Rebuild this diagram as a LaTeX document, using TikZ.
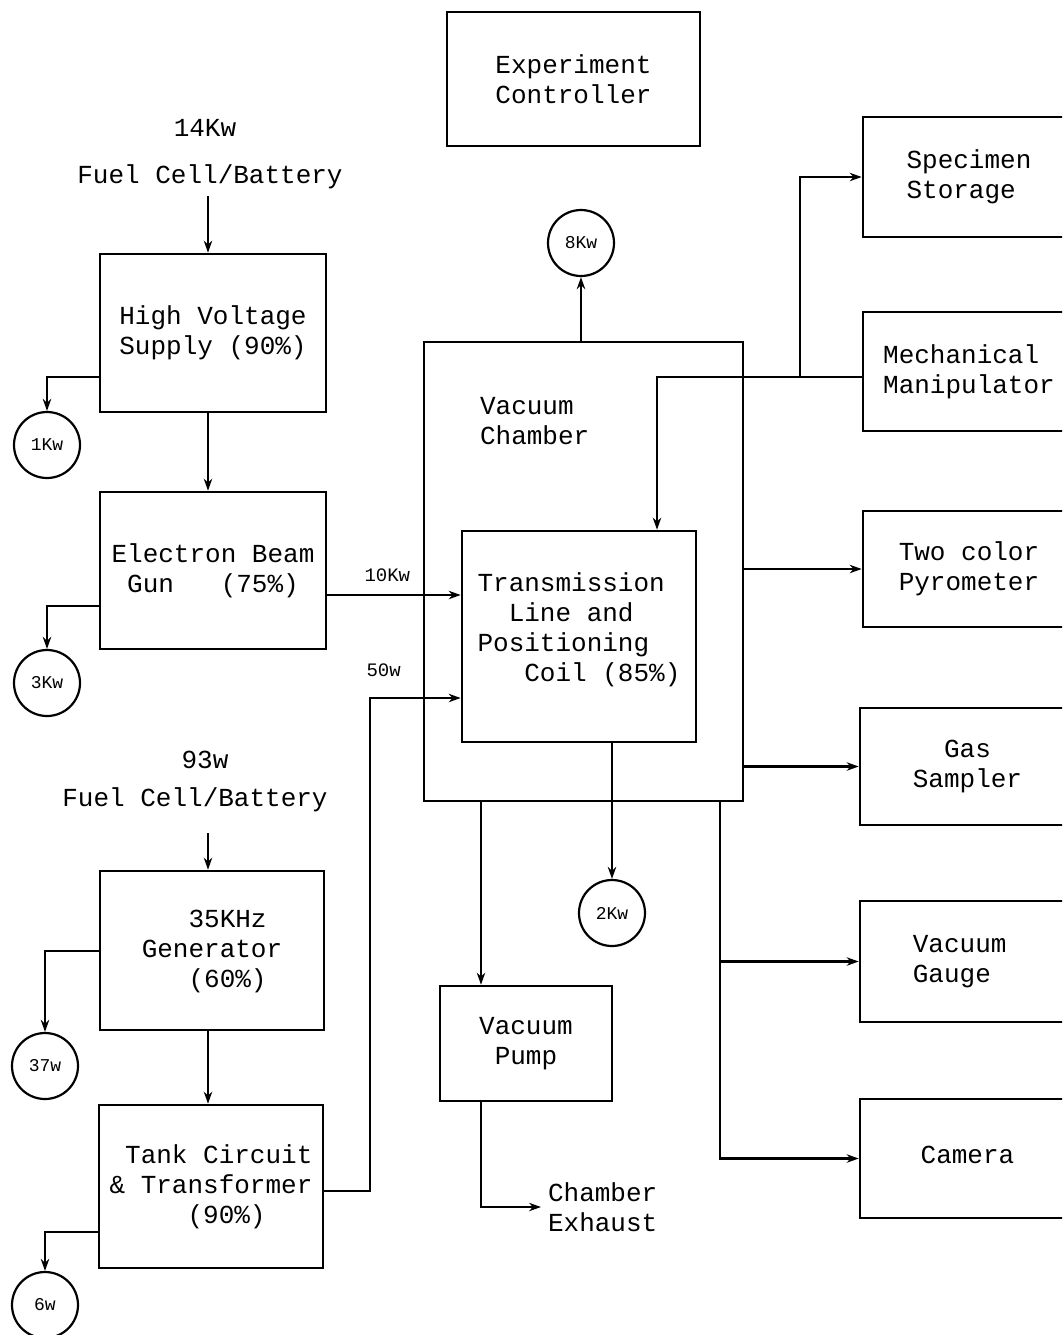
\documentclass[tikz,border=0pt]{standalone}
\usepackage{fontspec}
\setmonofont{Liberation Mono}
\usetikzlibrary{arrows.meta,positioning}
\tikzset{>={Stealth[length=6pt,width=4.2pt]},
  every node/.style={font=\ttfamily\fontsize{13}{15}\selectfont},
  blk/.style={draw,line width=1.3pt,align=center,inner sep=0pt},
  loss/.style={draw,circle,line width=1.1pt,minimum size=33pt,inner sep=0pt,
    font=\ttfamily\fontsize{9}{10}\selectfont},
  flow/.style={->,line width=1.1pt},
  tag/.style={font=\ttfamily\fontsize{9.5}{11}\selectfont}}
\begin{document}
\begin{tikzpicture}[x=0.5pt,y=-0.5pt]
\useasboundingbox (0,0) rectangle (1062,1335);
\clip (0,0) rectangle (1062,1335);
% controller
\node[blk,minimum width=126.5pt,minimum height=67pt] (ctrl) at (573.5,79) {Experiment\\Controller};
% high voltage chain
\node (kw14) at (205,128) {14Kw};
\node (fc1) at (210,177) {Fuel Cell/Battery};
\node[blk,minimum width=113pt,minimum height=79pt] (hv) at (213,333) {High Voltage\\Supply (90\%)};
\node[blk,minimum width=113pt,minimum height=78.5pt] (gun) at (213,570.5) {Electron Beam\\Gun\ \ \ (75\%)};
\node[loss] (c1) at (47,445) {1Kw};
\node[loss] (c3) at (47,683) {3Kw};
% induction chain
\node (w93) at (205,760) {93w};
\node (fc2) at (195,800) {Fuel Cell/Battery};
\node[blk,align=left,minimum width=112pt,minimum height=79.5pt] (gen) at (212,950.5)
  {\phantom{abc}35KHz\\Generator\\\phantom{abc}(60\%)};
\node[blk,align=left,minimum width=112pt,minimum height=81.5pt] (tank) at (211,1186.5)
  {\phantom{a}Tank Circuit\\\& Transformer\\\phantom{abcde}(90\%)};
\node[loss] (c37) at (45,1066) {37w};
\node[loss] (c6) at (45,1305) {6w};
% vacuum chamber
\node[blk,minimum width=159.5pt,minimum height=229.5pt] (chamber) at (583.5,571.5) {};
\node[align=left,anchor=west] (chtxt) at (473,421) {Vacuum\\Chamber};
\node[blk,align=left,minimum width=117pt,minimum height=105.5pt] (tl) at (579,636.5)
  {Transmission\\\phantom{ab}Line and\\Positioning\\\phantom{abc}Coil (85\%)\\[-6pt]};
\node[loss] (c8) at (581,243) {8Kw};
\node[loss] (c2) at (612,913) {2Kw};
\node[blk,minimum width=86pt,minimum height=57.5pt] (pump) at (526,1043.5) {Vacuum\\Pump};
\node[align=left,anchor=west] (exh) at (541,1207) {Chamber\\Exhaust};
% instruments
\node[blk,align=left,minimum width=106pt,minimum height=60pt] (spec) at (969,177) {Specimen\\Storage};
\node[blk,align=left,minimum width=106pt,minimum height=59.5pt] (mech) at (969,371.5) {Mechanical\\Manipulator};
\node[blk,minimum width=106pt,minimum height=58pt] (pyro) at (969,569) {Two color\\Pyrometer};
\node[blk,minimum width=107.5pt,minimum height=58.5pt] (gas) at (967.5,766.5) {Gas\\Sampler};
\node[blk,align=left,minimum width=107.5pt,minimum height=60.5pt] (gauge) at (967.5,961.5) {Vacuum\phantom{a}\\Gauge};
\node[blk,minimum width=107.5pt,minimum height=59.5pt] (cam) at (967.5,1158.5) {\raisebox{4pt}{Camera}};
\coordinate (mj) at (800,377);
\coordinate (bus) at (720,801);
% connectors
\draw[flow] (fc1.south -| 208,0) -- (hv.north -| 208,0);
\draw[flow] (hv.south -| 208,0) -- (gun.north -| 208,0);
\draw[flow] (hv.west |- 0,377) -| (c1);
\draw[flow] (gun.west |- 0,606) -| (c3);
\draw[flow] (gun.east |- 0,595) -- node[tag,pos=0.45,above=3pt] {10Kw} (tl.west |- 0,595);
\draw[flow] (tank.east |- 0,1191) -| (370,698) -- node[tag,pos=0.15,above=7pt] {50w} (tl.west |- 0,698);
\draw[flow] (fc2.south -| 208,0) ++(0,14) -- (gen.north -| 208,0);
\draw[flow] (gen.south -| 208,0) -- (tank.north -| 208,0);
\draw[flow] (gen.west |- 0,951) -| (c37);
\draw[flow] (tank.west |- 0,1232) -| (c6);
\draw[flow] (chamber.north -| c8) -- (c8);
\draw[flow] (tl.south -| c2) -- (c2);
\draw[flow] (mech.west |- mj) -| (tl.north -| 657,0);
\draw[flow] (mj) |- (spec);
\draw[flow] (chamber.east |- pyro) -- (pyro);
\draw[flow] (chamber.east |- gas) -- (gas);
\draw[flow] (bus) |- (gauge);
\draw[flow] (bus) |- (cam);
\draw[flow] (chamber.south -| 481,0) -- (pump.north -| 481,0);
\draw[flow] (pump.south -| 481,0) |- (exh.west);
\end{tikzpicture}
\end{document}
